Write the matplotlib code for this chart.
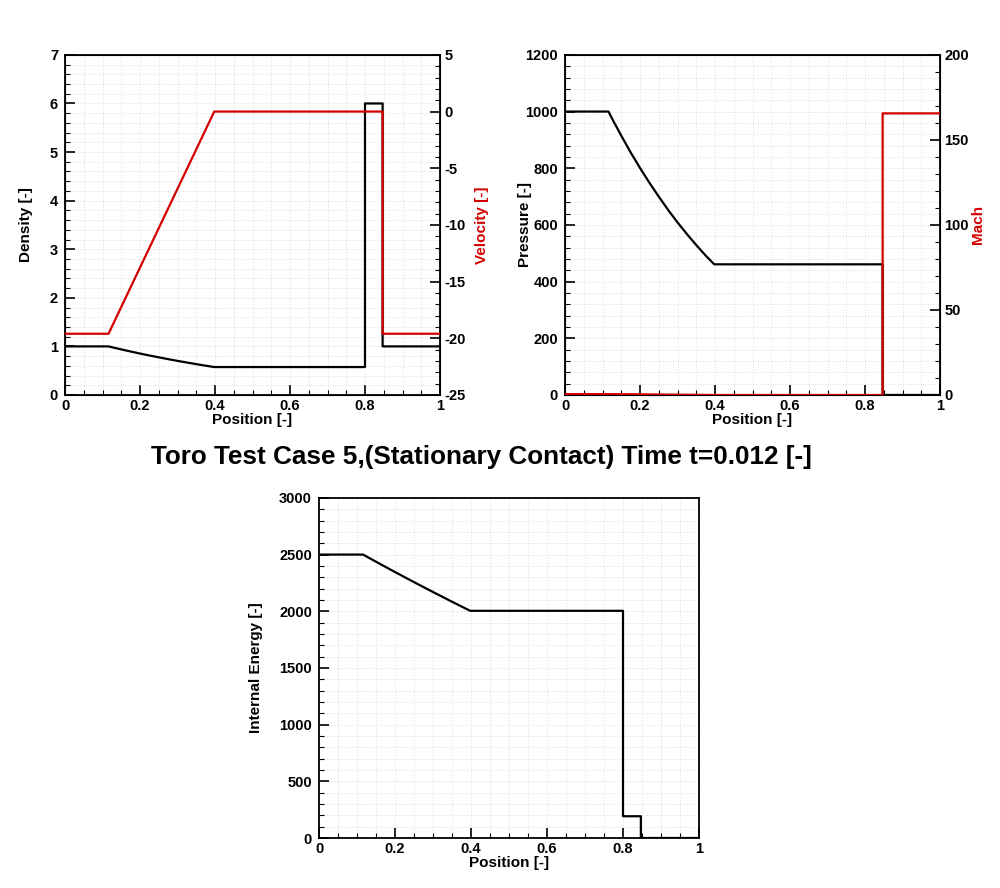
import numpy as np
import matplotlib
matplotlib.use('Agg')
import matplotlib.pyplot as plt
from matplotlib.ticker import MultipleLocator

plt.rcParams['font.family'] = ['Liberation Sans', 'DejaVu Sans']
plt.rcParams['font.weight'] = 'bold'
plt.rcParams['axes.unicode_minus'] = False

RED = '#d40000'

# values (Toro test 5, t=0.012)
x_rho = [0.0, 0.116, 0.13, 0.15, 0.175, 0.2, 0.225, 0.25, 0.275, 0.3, 0.325, 0.35, 0.375,
         0.398, 0.8, 0.8, 0.847, 0.847, 1.0]
rho = [1.0, 1.0, 0.974, 0.938, 0.895, 0.853, 0.813, 0.775, 0.738, 0.702, 0.668, 0.635, 0.603,
       0.575, 0.575, 6.0, 6.0, 1.0, 1.0]

x_u = [0.0, 0.116, 0.398, 0.847, 0.847, 1.0]
u = [-19.6, -19.6, 0.0, 0.0, -19.6, -19.6]

x_p = [0.0, 0.116, 0.13, 0.15, 0.175, 0.2, 0.225, 0.25, 0.275, 0.3, 0.325, 0.35, 0.375,
       0.398, 0.847, 0.847, 1.0]
p = [1000, 1000, 964, 915, 856, 801, 749, 700, 653, 609, 568, 529, 492,
     461, 461, 0.01, 0.01]

x_mach = [0.0, 0.116, 0.2, 0.3, 0.398, 0.847, 0.847, 1.0]
mach = [0.52, 0.52, 0.38, 0.2, 0.0, 0.0, 165.6, 165.6]

x_e = [0.0, 0.116, 0.15, 0.2, 0.25, 0.3, 0.35, 0.398, 0.8, 0.8, 0.847, 0.847, 1.0]
e = [2500, 2500, 2437, 2346, 2257, 2170, 2084, 2004, 2004, 192, 192, 0.03, 0.03]

title = 'Toro Test Case 5,(Stationary Contact) Time t=0.012 [-]'


def style(ax, ymaj, ymin):
    ax.xaxis.set_major_locator(MultipleLocator(0.2))
    ax.xaxis.set_minor_locator(MultipleLocator(0.05))
    ax.yaxis.set_major_locator(MultipleLocator(ymaj))
    ax.yaxis.set_minor_locator(MultipleLocator(ymin))
    ax.tick_params(which='both', direction='in', top=False, right=False, labelsize=10.5)
    ax.tick_params(axis='x', pad=3)
    ax.tick_params(axis='y', pad=5)
    ax.tick_params(which='major', length=7, width=1.2)
    ax.tick_params(which='minor', length=3.5, width=0.8)
    for s in ax.spines.values():
        s.set_linewidth(1.3)
    ax.grid(True, which='both', color='#d2d2d2', linestyle=(0, (1, 2)), linewidth=0.6)
    ax.set_axisbelow(True)
    for lab in ax.get_xticklabels() + ax.get_yticklabels():
        lab.set_fontweight('bold')
    ax.set_xlim(0, 1)
    ax.xaxis.set_major_formatter(plt.FuncFormatter(lambda v, _: '%g' % round(v, 2)))
    ax.set_xlabel('Position [-]', fontsize=11, fontweight='bold', labelpad=0)


def style_twin(ax2, ymaj, ymin):
    ax2.yaxis.set_major_locator(MultipleLocator(ymaj))
    ax2.yaxis.set_minor_locator(MultipleLocator(ymin))
    ax2.tick_params(which='both', direction='in', labelsize=10.5, pad=3)
    ax2.tick_params(which='major', length=7, width=1.2)
    ax2.tick_params(which='minor', length=3.5, width=0.8)
    for lab in ax2.get_yticklabels():
        lab.set_fontweight('bold')


def ylab(ax, text, xpos, color='black'):
    ax.set_ylabel(text, fontsize=11, fontweight='bold', color=color)
    ax.yaxis.set_label_coords(xpos, 0.5)
    ax.yaxis.label.set_va('center')


fig = plt.figure(figsize=(10, 8.88), dpi=100)

# density / velocity
ax1 = fig.add_axes([0.065, 0.5552, 0.375, 0.383])
ax1.plot(x_rho, rho, color='black', lw=1.6, zorder=3)
ax1.set_ylim(0, 7)
style(ax1, 1, 0.2)
ylab(ax1, 'Density [-]', -0.104)
ax1b = ax1.twinx()
ax1b.plot(x_u, u, color=RED, lw=1.6, zorder=4)
ax1b.set_ylim(-25, 5)
style_twin(ax1b, 5, 1)
ylab(ax1b, 'Velocity [-]', 1.112, RED)

# pressure / mach
ax2 = fig.add_axes([0.565, 0.5552, 0.375, 0.383])
ax2.plot(x_p, p, color='black', lw=1.6, zorder=3)
ax2.set_ylim(0, 1200)
style(ax2, 200, 40)
ylab(ax2, 'Pressure [-]', -0.107)
ax2b = ax2.twinx()
ax2b.plot(x_mach, mach, color=RED, lw=1.6, zorder=4)
ax2b.set_ylim(0, 200)
style_twin(ax2b, 50, 10)
ylab(ax2b, 'Mach', 1.102, RED)

# internal energy
ax3 = fig.add_axes([0.319, 0.0563, 0.38, 0.383])
ax3.plot(x_e, e, color='black', lw=1.6, zorder=3)
ax3.set_ylim(0, 3000)
style(ax3, 500, 100)
ylab(ax3, 'Internal Energy [-]', -0.166)

fig.text(0.481, 0.485, title, ha='center', va='center', fontsize=18.8, fontweight='bold')

fig.savefig('out.png', dpi=100)
